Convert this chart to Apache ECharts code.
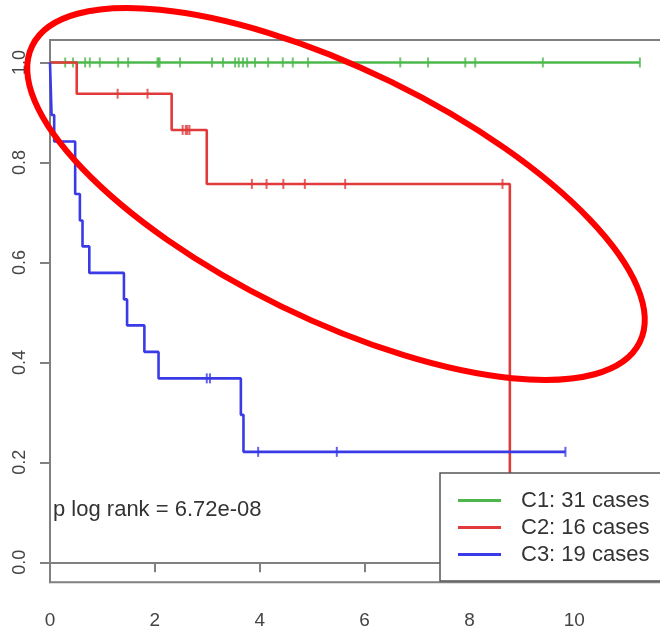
<!DOCTYPE html>
<html>
<head>
<meta charset="utf-8">
<script src="https://cdn.jsdelivr.net/npm/echarts@6/dist/echarts.min.js"></script>
<style>
html,body{margin:0;padding:0;background:#fff;}
#chart{width:660px;height:630px;}
</style>
</head>
<body>
<div id="chart"></div>
<script>
// ---- data ----
const groupNames = ['C1: 31 cases', 'C2: 16 cases', 'C3: 19 cases'];
const groupColors = ['#4cb84c', '#e03a3a', '#3a3ae6'];

// Kaplan-Meier step points (time, survival)
const c1Times = [0, 11.25];
const c1Surv  = [1, 1];
const c1Censor = [0.29, 0.44, 0.67, 0.76, 0.95, 1.30, 1.49, 2.05, 2.07, 2.09, 2.48, 3.09, 3.30, 3.53, 3.60, 3.68, 3.76, 3.91, 4.16, 4.44, 4.63, 4.92, 6.68, 7.21, 7.92, 8.11, 9.40, 11.25];

const c2Times = [0, 0.51, 2.32, 2.99, 8.77];
const c2Surv  = [1, 0.9375, 0.865, 0.757, 0];
const c2Censor = [1.29, 1.86, 2.53, 2.59, 2.62, 2.66, 3.85, 4.13, 4.45, 4.86, 5.63, 8.63];

const c3Times = [0, 0.03, 0.08, 0.48, 0.57, 0.62, 0.75, 1.41, 1.47, 1.80, 2.07, 3.64, 3.69, 9.83];
const c3Surv  = [1, 0.895, 0.842, 0.737, 0.684, 0.632, 0.579, 0.526, 0.474, 0.421, 0.368, 0.295, 0.221, 0.221];
const c3Censor = [2.99, 3.05, 3.97, 5.47, 9.83];

const yTickValues = [0, 0.2, 0.4, 0.6, 0.8, 1.0];
const pText = 'p log rank = 6.72e-08';

// ---- build ----
function survAt(times, surv, t) {
  let s = surv[0];
  for (let i = 0; i < times.length; i++) { if (times[i] <= t + 1e-9) s = surv[i]; }
  return s;
}
const groups = [
  {times: c1Times, surv: c1Surv, censor: c1Censor},
  {times: c2Times, surv: c2Surv, censor: c2Censor},
  {times: c3Times, surv: c3Surv, censor: c3Censor}
];
const series = [];
groups.forEach((g, i) => {
  series.push({
    name: groupNames[i], type: 'line', step: 'end', showSymbol: false, symbol: 'none',
    data: g.times.map((t, k) => [t, g.surv[k]]),
    lineStyle: {color: groupColors[i], width: 2.6},
    itemStyle: {color: groupColors[i]},
    z: 2 + i, animation: false
  });
  series.push({
    name: groupNames[i] + ' censored', type: 'scatter',
    data: g.censor.map(t => [t, survAt(g.times, g.surv, t)]),
    symbol: 'rect', symbolSize: [2, 10],
    itemStyle: {color: groupColors[i]},
    z: 2 + i, animation: false, silent: true
  });
});

const chart = echarts.init(document.getElementById('chart'), null, {renderer: 'canvas'});
const axisColor = '#808080';
chart.setOption({
  animation: false,
  backgroundColor: '#fff',
  title: {
    text: pText, left: 53, top: 499, padding: 0,
    textStyle: {fontFamily: 'Liberation Sans', fontSize: 22, fontWeight: 'normal', color: '#333'}
  },
  grid: {
    left: 50, top: 40, width: 629.2, height: 542.3,
    outerBoundsMode: 'none', containLabel: false,
    show: true, borderColor: axisColor, borderWidth: 2, backgroundColor: 'transparent'
  },
  xAxis: {
    type: 'value', min: 0, max: 12, interval: 2,
    axisLine: {show: true, lineStyle: {color: axisColor, width: 2}},
    axisTick: {show: true, inside: false, length: 10, lineStyle: {color: axisColor, width: 2}},
    axisLabel: {margin: 29, fontFamily: 'Liberation Sans', fontSize: 19, color: '#444'},
    splitLine: {show: false}
  },
  yAxis: {
    type: 'value', min: -0.04, max: 1.045,
    axisLine: {show: true, lineStyle: {color: axisColor, width: 2}},
    axisTick: {show: true, inside: false, length: 10, customValues: yTickValues, lineStyle: {color: axisColor, width: 2}},
    axisLabel: {
      customValues: yTickValues, rotate: 90, margin: 21,
      fontFamily: 'Liberation Sans', fontSize: 18, color: '#444',
      formatter: v => Number(v).toFixed(1)
    },
    splitLine: {show: false}
  },
  legend: {
    data: groupNames, orient: 'vertical', left: 440, top: 473,
    padding: [14, 60, 13, 18], itemGap: 0, itemWidth: 43, itemHeight: 3, icon: 'rect',
    backgroundColor: '#fff', borderColor: '#555', borderWidth: 1.5, borderRadius: 0,
    selectedMode: false,
    textStyle: {fontFamily: 'Liberation Sans', fontSize: 22, color: '#333', lineHeight: 27, padding: [0, 0, 0, 15]}
  },
  graphic: [{
    type: 'ellipse', x: 336, y: 194, rotation: -26 * Math.PI / 180,
    shape: {cx: 0, cy: 0, rx: 338, ry: 125},
    style: {fill: 'none', stroke: '#ff0000', lineWidth: 6},
    z: 100, silent: true
  }],
  series: series
});
</script>
</body>
</html>
